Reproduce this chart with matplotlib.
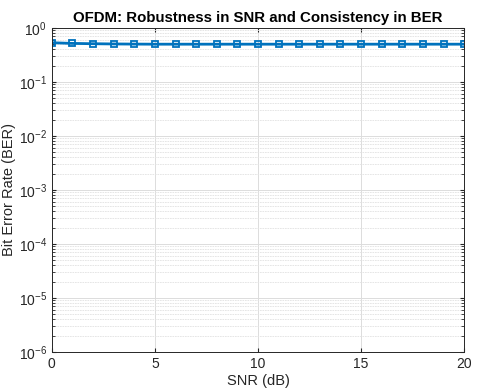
import matplotlib
matplotlib.use("Agg")
import matplotlib.pyplot as plt
import numpy as np

# データ
snr_db = list(range(0, 21))
ber = [0.530, 0.515, 0.508, 0.503, 0.500, 0.498, 0.498, 0.498, 0.498, 0.498, 0.498,
       0.498, 0.498, 0.498, 0.498, 0.498, 0.498, 0.498, 0.498, 0.498, 0.498]

plt.rcParams['font.family'] = ['Liberation Sans', 'DejaVu Sans']

fig = plt.figure(figsize=(4.8, 3.92), dpi=100)
ax = fig.add_axes([0.108, 0.102, 0.859, 0.827])

ax.semilogy(snr_db, ber, color='#0072BD', linewidth=2, marker='s',
            markersize=5, markerfacecolor='none', markeredgewidth=1.3)

ax.set_xlim(0, 20)
ax.set_ylim(1e-6, 1)
ax.set_xticks([0, 5, 10, 15, 20])
ax.set_yticks([1e-6, 1e-5, 1e-4, 1e-3, 1e-2, 1e-1, 1])

# MATLAB風のグリッドと目盛り
ax.grid(True, which='major', color='#dcdcdc', linewidth=0.7)
ax.grid(True, which='minor', color='#e2e2e2', linewidth=0.6, linestyle=(0, (2, 1)))
ax.tick_params(which='both', direction='in', top=True, right=True,
               labelsize=10, colors='#262626', length=3)
ax.tick_params(which='minor', length=2)
for s in ax.spines.values():
    s.set_color('#262626')
    s.set_linewidth(0.7)

ax.set_title('OFDM: Robustness in SNR and Consistency in BER',
             fontsize=10.8, fontweight='bold', pad=4)
ax.set_xlabel('SNR (dB)', fontsize=10.5, color='#262626', labelpad=2)
ax.set_ylabel('Bit Error Rate (BER)', fontsize=10.5, color='#262626', labelpad=2)

fig.savefig('out.png', dpi=100)
